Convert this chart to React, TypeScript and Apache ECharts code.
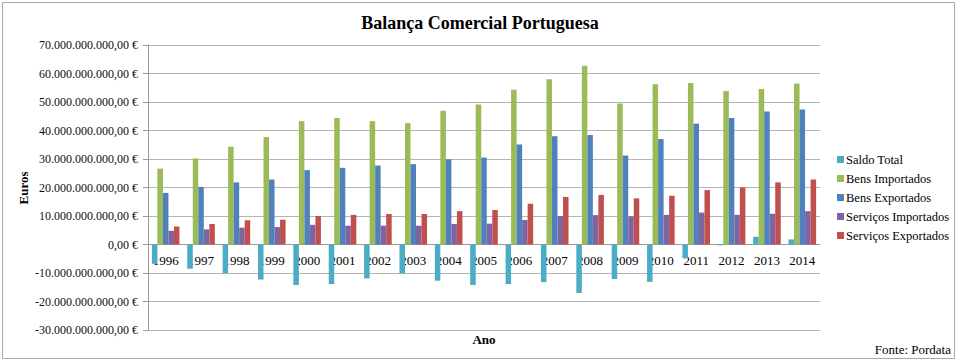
import React, { useEffect, useRef } from "react";
import * as echarts from "echarts";

const years = ["1996","1997","1998","1999","2000","2001","2002","2003","2004","2005","2006","2007","2008","2009","2010","2011","2012","2013","2014"];
// values in billions of euros
const saldoTotal = [-6.8, -8.5, -10.1, -12.3, -14.2, -13.9, -11.9, -10.1, -12.7, -14.2, -13.9, -13.2, -17.0, -12.1, -13.1, -4.8, -0.3, 2.7, 1.8];
const bensImportados = [26.6, 30.2, 34.3, 37.7, 43.3, 44.4, 43.3, 42.6, 46.9, 49.1, 54.3, 58.0, 62.7, 49.5, 56.2, 56.7, 53.9, 54.6, 56.5];
const bensExportados = [18.1, 20.2, 21.8, 22.8, 26.1, 26.9, 27.7, 28.2, 29.9, 30.5, 35.1, 38.0, 38.4, 31.2, 37.0, 42.4, 44.4, 46.7, 47.4];
const servicosImportados = [4.8, 5.3, 5.9, 6.1, 6.9, 6.6, 6.6, 6.6, 7.2, 7.3, 8.6, 10.0, 10.3, 9.9, 10.4, 11.2, 10.4, 10.8, 11.7];
const servicosExportados = [6.3, 7.2, 8.5, 8.7, 10.0, 10.4, 10.7, 10.7, 11.7, 12.1, 14.3, 16.7, 17.4, 16.2, 17.1, 19.1, 20.0, 21.8, 22.8];

const seriesNames = ["Saldo Total", "Bens Importados", "Bens Exportados", "Serviços Importados", "Serviços Exportados"];
const seriesColors = ["#4bacc6", "#9bbb59", "#4f81bd", "#8064a2", "#c0504d"];

const FONT = "'Liberation Serif', 'Times New Roman', serif";

const Y_MIN = -30e9;
const Y_MAX = 70e9;
const GRID_TOP = 45;
const GRID_BOTTOM = 33;
const GRID_H = 363 - GRID_TOP - GRID_BOTTOM;

function fmtEuro(v: number): string {
  const neg = v < 0;
  const abs = Math.round(Math.abs(v));
  const s = String(abs).replace(/\B(?=(\d{3})+(?!\d))/g, ".");
  return (neg ? "-" : "") + s + ",00 €";
}

export default function App() {
  const ref = useRef<HTMLDivElement>(null);
  useEffect(() => {
    if (!ref.current) return;
    const chart = echarts.init(ref.current, undefined, { renderer: "svg" });
    const dataSets = [saldoTotal, bensImportados, bensExportados, servicosImportados, servicosExportados];
    // distance from the grid bottom to the zero line
    const zeroOffset = (-Y_MIN / (Y_MAX - Y_MIN)) * GRID_H;
    chart.setOption({
      animation: false,
      backgroundColor: "#ffffff",
      title: {
        text: "Balança Comercial Portuguesa",
        left: "center",
        top: 9,
        textStyle: { fontFamily: FONT, fontSize: 18, fontWeight: "bold", color: "#000" },
      },
      legend: {
        orient: "vertical",
        left: 832,
        top: 148,
        itemWidth: 7,
        itemHeight: 7,
        itemGap: 6,
        icon: "rect",
        data: seriesNames,
        textStyle: { fontFamily: FONT, fontSize: 12.5, color: "#000", padding: [0, 0, 0, -3] },
      },
      grid: { left: 148, right: 140, top: GRID_TOP, bottom: GRID_BOTTOM, containLabel: false },
      xAxis: {
        type: "category",
        data: years,
        position: "bottom",
        offset: -zeroOffset,
        axisLine: { onZero: false, lineStyle: { color: "#9a9a9a", width: 1 } },
        axisTick: { show: false },
        axisLabel: { fontFamily: FONT, fontSize: 13, color: "#000", margin: 9 },
        z: 0,
      },
      yAxis: {
        type: "value",
        min: Y_MIN,
        max: Y_MAX,
        interval: 10e9,
        axisLine: { show: true, lineStyle: { color: "#9a9a9a" } },
        axisTick: { show: true, length: 5, lineStyle: { color: "#9a9a9a" } },
        splitLine: { lineStyle: { color: "#b4b4b4", width: 1 } },
        axisLabel: { fontFamily: FONT, fontSize: 12, color: "#111", margin: 10, formatter: (v: number) => fmtEuro(v) },
      },
      series: seriesNames.map((name, i) => ({
        name,
        type: "bar",
        data: dataSets[i].map((v) => v * 1e9),
        itemStyle: { color: seriesColors[i] },
        barGap: "0%",
        barCategoryGap: "22%",
        z: 3,
      })),
      graphic: [
        {
          type: "rect",
          shape: { x: 2.5, y: 2.5, width: 952, height: 356 },
          style: { fill: "none", stroke: "#a8a8a8", lineWidth: 1 },
          silent: true,
        },
        {
          type: "text",
          x: 23,
          y: 188,
          rotation: Math.PI / 2,
          style: { text: "Euros", font: "bold 13px " + FONT, fill: "#000", textAlign: "center", textVerticalAlign: "middle" },
        },
        {
          type: "text",
          x: 484,
          y: 339,
          style: { text: "Ano", font: "bold 13px " + FONT, fill: "#000", textAlign: "center", textVerticalAlign: "middle" },
        },
        {
          type: "text",
          x: 951,
          y: 349,
          style: { text: "Fonte: Pordata", font: "13px " + FONT, fill: "#000", textAlign: "right", textVerticalAlign: "middle" },
        },
      ],
    });
    return () => chart.dispose();
  }, []);
  return <div ref={ref} style={{ position: "fixed", left: 0, top: 0, width: 960, height: 363 }} />;
}
